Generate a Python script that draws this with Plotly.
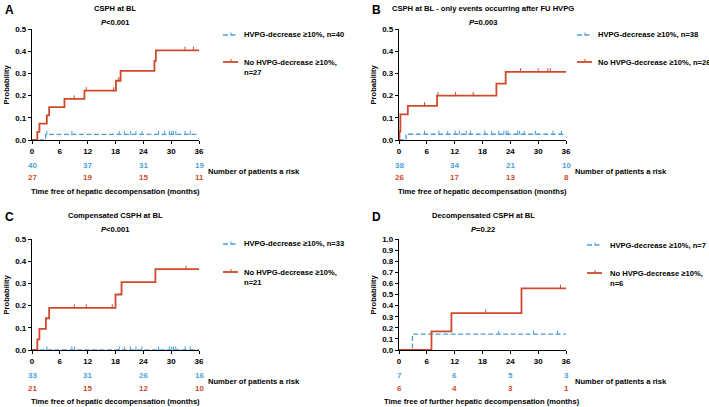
import plotly.graph_objects as go

W, H = 709, 407

# ---------------- DATA ----------------
months_ticks = [0, 6, 12, 18, 24, 30, 36]
risk_months = [0, 12, 24, 36]

# Panel A
a_red_t = [0, 1.15, 1.6, 3.2, 3.7, 7.0, 11.3, 18.1, 19.1, 26.4, 26.7, 36]
a_red_p = [0, 0.037, 0.074, 0.111, 0.148, 0.185, 0.222, 0.267, 0.311, 0.356, 0.404, 0.404]
a_red_cens = [9.1, 11.7, 17.6, 18.7, 33.0, 34.8]
a_blue_t = [0, 2.95, 36]
a_blue_p = [0, 0.025, 0.025]
a_blue_cens = [3.2, 8.6, 18.8, 19.9, 21.2, 22.4, 23.7, 27.3, 28.6, 29.6, 30.1, 30.5, 31.0, 33.0, 34.1]
a_risk_blue = [40, 37, 31, 19]
a_risk_red = [27, 19, 15, 11]

# Panel B
b_red_t = [0, 0.1, 0.3, 1.9, 8.2, 21.0, 23.0, 36]
b_red_p = [0, 0.038, 0.115, 0.154, 0.2, 0.254, 0.307, 0.307]
b_red_cens = [5.5, 8.4, 12.2, 16.0, 26.2, 30.0, 32.1, 32.6]
b_blue_t = [0, 1.5, 36]
b_blue_p = [0, 0.026, 0.026]
b_blue_cens = [5.5, 8.6, 10.5, 12.1, 13.0, 14.5, 15.4, 18.5, 20.0, 21.5, 22.6, 23.1,
               23.5, 25.6, 26.0, 27.0, 29.4, 33.2, 35.0]
b_risk_blue = [38, 34, 21, 10]
b_risk_red = [26, 17, 13, 8]

# Panel C
c_red_t = [0, 1.15, 1.6, 3.0, 3.7, 18.0, 19.3, 26.6, 36]
c_red_p = [0, 0.048, 0.095, 0.143, 0.19, 0.25, 0.306, 0.364, 0.364]
c_red_cens = [9.1, 11.7, 17.3, 33.2]
c_blue_t = [0, 36]
c_blue_p = [0, 0]
c_blue_cens = [3.2, 8.6, 9.2, 18.8, 19.9, 21.2, 22.4, 23.7, 27.3, 29.6, 30.1, 30.5,
               31.0, 33.0, 34.1]
c_risk_blue = [33, 31, 26, 16]
c_risk_red = [21, 15, 12, 10]

# Panel D
d_red_t = [0, 7.0, 11.3, 26.4, 36]
d_red_p = [0, 0.167, 0.333, 0.556, 0.556]
d_red_cens = [18.7, 34.8]
d_blue_t = [0, 2.9, 36]
d_blue_p = [0, 0.143, 0.143]
d_blue_cens = [21.5, 29.0, 34.2]
d_risk_blue = [7, 6, 5, 3]
d_risk_red = [6, 4, 3, 1]

BLUE = "#4d9fdb"
RED = "#cf4a2b"
FONT = "Liberation Sans, Arial, sans-serif"
FS = 7.6
DASH = "5px,2.5px"


def X(px):
    return px / W


def Y(py):
    return 1 - py / H


def step_val(ts, ps, t):
    v = ps[0]
    for ti, pi in zip(ts, ps):
        if ti <= t:
            v = pi
    return v


fig = go.Figure()

panels = [
    dict(key="A", ax="", x0=32, x1=199, y0=29, y1=140, ymax=0.5, dt=0.1,
         rt=a_red_t, rp=a_red_p, rc=a_red_cens, bt=a_blue_t, bp=a_blue_p, bc=a_blue_cens,
         rb=a_risk_blue, rr=a_risk_red, title="CSPH at BL", tcx=115, pval="<i>P</i>&lt;0.001",
         leg_x=223, leg_tx=243, leg_y=35, leg_ry=62,
         blue_lab="HVPG-decrease ≥10%, n=40", red_lab=["No HVPG-decrease ≥10%,", "n=27"],
         xtitle="Time free of hepatic decompensation (months)", top=0),
    dict(key="B", ax="2", x0=399, x1=566, y0=29, y1=140, ymax=0.5, dt=0.1,
         rt=b_red_t, rp=b_red_p, rc=b_red_cens, bt=b_blue_t, bp=b_blue_p, bc=b_blue_cens,
         rb=b_risk_blue, rr=b_risk_red, title="CSPH at BL - only events occurring after FU HVPG",
         tcx=483, pval="<i>P</i>=0.003",
         leg_x=577, leg_tx=597, leg_y=35, leg_ry=62,
         blue_lab="HVPG-decrease ≥10%, n=38", red_lab=["No HVPG-decrease ≥10%, n=26"],
         xtitle="Time free of hepatic decompensation (months)", top=0),
    dict(key="C", ax="3", x0=32, x1=199, y0=239, y1=350, ymax=0.5, dt=0.1,
         rt=c_red_t, rp=c_red_p, rc=c_red_cens, bt=c_blue_t, bp=c_blue_p, bc=c_blue_cens,
         rb=c_risk_blue, rr=c_risk_red, title="Compensated CSPH at BL", tcx=115,
         pval="<i>P</i>&lt;0.001",
         leg_x=223, leg_tx=243, leg_y=244, leg_ry=272,
         blue_lab="HVPG-decrease ≥10%, n=33", red_lab=["No HVPG-decrease ≥10%,", "n=21"],
         xtitle="Time free of hepatic decompensation (months)", top=207),
    dict(key="D", ax="4", x0=399, x1=566, y0=239, y1=350, ymax=1.0, dt=0.1,
         rt=d_red_t, rp=d_red_p, rc=d_red_cens, bt=d_blue_t, bp=d_blue_p, bc=d_blue_cens,
         rb=d_risk_blue, rr=d_risk_red, title="Decompensated CSPH at BL", tcx=483,
         pval="<i>P</i>=0.22",
         leg_x=587, leg_tx=609, leg_y=245, leg_ry=273,
         blue_lab="HVPG-decrease ≥10%, n=7", red_lab=["No HVPG-decrease ≥10%,", "n=6"],
         xtitle="Time free of further hepatic decompensation (months)", top=207),
]

annotations = []
shapes = []


def txt(px, py, s, size=FS, color="black", xa="left", ya="middle", angle=0, bold=True):
    annotations.append(dict(
        x=X(px), y=Y(py), xref="paper", yref="paper", text=("<b>%s</b>" % s) if bold else s,
        showarrow=False, xanchor=xa, yanchor=ya, textangle=angle, borderpad=0,
        font=dict(family=FONT, size=size, color=color)))


for p in panels:
    ax = p["ax"]
    xa = "x" + ax
    ya = "y" + ax
    ppx = p["ymax"] / (p["y1"] - p["y0"])  # data units per pixel
    # blue dashed curve
    fig.add_trace(go.Scatter(x=p["bt"], y=p["bp"], mode="lines", line_shape="hv",
                             line=dict(color=BLUE, width=1.3, dash=DASH),
                             xaxis=xa, yaxis=ya, showlegend=False, hoverinfo="skip"))
    fig.add_trace(go.Scatter(x=p["bc"],
                             y=[step_val(p["bt"], p["bp"], t) + 1.5 * ppx for t in p["bc"]],
                             mode="markers", cliponaxis=False,
                             marker=dict(symbol="line-ns", size=3,
                                         line=dict(color=BLUE, width=1)),
                             xaxis=xa, yaxis=ya, showlegend=False, hoverinfo="skip"))
    # red solid curve
    fig.add_trace(go.Scatter(x=p["rt"], y=p["rp"], mode="lines", line_shape="hv",
                             line=dict(color=RED, width=1.8),
                             xaxis=xa, yaxis=ya, showlegend=False, hoverinfo="skip"))
    fig.add_trace(go.Scatter(x=p["rc"],
                             y=[step_val(p["rt"], p["rp"], t) + 1.5 * ppx for t in p["rc"]],
                             mode="markers", cliponaxis=False,
                             marker=dict(symbol="line-ns", size=3,
                                         line=dict(color=RED, width=1)),
                             xaxis=xa, yaxis=ya, showlegend=False, hoverinfo="skip"))

    xkey = "xaxis" + ax
    ykey = "yaxis" + ax
    fig.layout[xkey] = dict(
        domain=[X(p["x0"]), X(p["x1"])], range=[0, 36], anchor=ya, automargin=False,
        tickvals=months_ticks, ticks="outside", ticklen=3, tickwidth=1.2, tickcolor="black",
        showline=True, linecolor="black", linewidth=1.3, showgrid=False, zeroline=False,
        tickfont=dict(family=FONT, size=8, color="black", weight="bold"), fixedrange=True)
    nt = int(round(p["ymax"] / p["dt"]))
    yt = [round(i * p["dt"], 1) for i in range(nt + 1)]
    fig.layout[ykey] = dict(
        domain=[Y(p["y1"]), Y(p["y0"])], range=[0, p["ymax"]], anchor=xa, automargin=False,
        tickvals=yt, ticktext=["%.1f" % v for v in yt],
        ticks="outside", ticklen=3, tickwidth=1.2, tickcolor="black",
        showline=True, linecolor="black", linewidth=1.3, showgrid=False, zeroline=False,
        tickfont=dict(family=FONT, size=8, color="black", weight="bold"), fixedrange=True)

    top = p["top"]
    # panel letter
    txt(p["x0"] - 28, top + 10, p["key"], size=12)
    # title and p value
    txt(p["tcx"], top + 8, p["title"], xa="center")
    txt(p["tcx"], top + 22, p["pval"], xa="center")
    # y title
    txt(p["x0"] - 26, (p["y0"] + p["y1"]) / 2, "Probability", xa="center", angle=-90)
    # legend
    lx, ltx = p["leg_x"], p["leg_tx"]
    shapes.append(dict(type="line", xref="paper", yref="paper", x0=X(lx), x1=X(lx + 15),
                       y0=Y(p["leg_y"]), y1=Y(p["leg_y"]),
                       line=dict(color=BLUE, width=1.3, dash=DASH)))
    shapes.append(dict(type="line", xref="paper", yref="paper", x0=X(lx + 8), x1=X(lx + 8),
                       y0=Y(p["leg_y"] - 2.5), y1=Y(p["leg_y"]),
                       line=dict(color=BLUE, width=1)))
    shapes.append(dict(type="line", xref="paper", yref="paper", x0=X(lx), x1=X(lx + 15),
                       y0=Y(p["leg_ry"]), y1=Y(p["leg_ry"]),
                       line=dict(color=RED, width=1.8)))
    shapes.append(dict(type="line", xref="paper", yref="paper", x0=X(lx + 8), x1=X(lx + 8),
                       y0=Y(p["leg_ry"] - 3), y1=Y(p["leg_ry"]),
                       line=dict(color=RED, width=1)))
    txt(ltx, p["leg_y"], p["blue_lab"])
    for i, line in enumerate(p["red_lab"]):
        txt(ltx, p["leg_ry"] + i * 10, line)
    # numbers at risk
    ry = p["y1"] + 25
    for m, nb, nr in zip(risk_months, p["rb"], p["rr"]):
        px = p["x0"] + (p["x1"] - p["x0"]) * m / 36.0
        txt(px, ry, str(nb), size=8, color=BLUE, xa="center")
        txt(px, ry + 13, str(nr), size=8, color=RED, xa="center")
    txt(p["x1"] + 8, ry + 6.5, "Number of patients a risk")
    # x title
    txt((p["x0"] + p["x1"]) / 2 - (1 if p["key"] == "D" else 0), p["y1"] + 51,
        p["xtitle"], xa="center")

fig.update_layout(
    template="none",
    width=W, height=H, margin=dict(l=0, r=0, t=0, b=0, pad=0),
    paper_bgcolor="white", plot_bgcolor="white", showlegend=False,
    annotations=annotations, shapes=shapes,
    font=dict(family=FONT, size=8, color="black"),
)

fig.write_html("out.html", config={"displayModeBar": False},
               post_script="document.body.style.margin='0';document.body.style.overflow='hidden';")
